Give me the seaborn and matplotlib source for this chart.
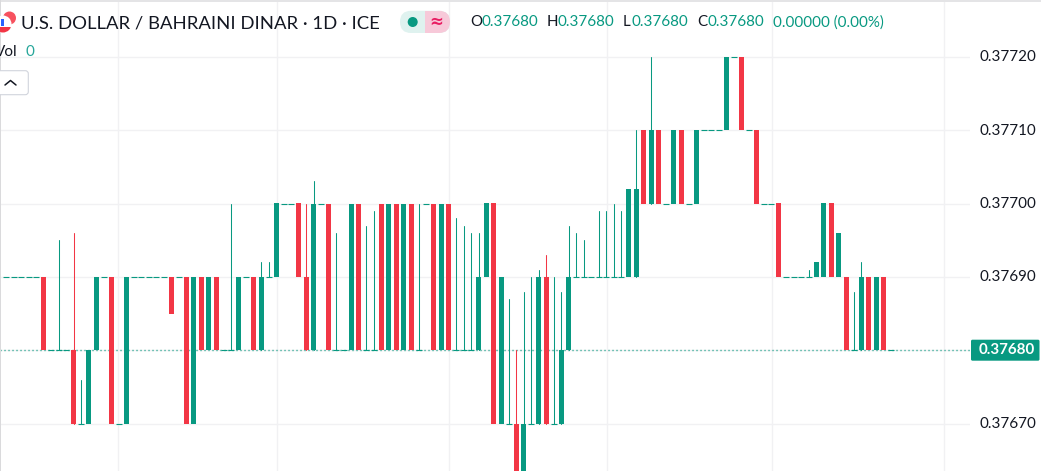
import numpy as np
import pandas as pd
import matplotlib
matplotlib.use("Agg")
import matplotlib.pyplot as plt
from matplotlib.patches import Circle, FancyBboxPatch, Rectangle
from matplotlib.transforms import ScaledTranslation
import seaborn as sns

UP = "#089981"
DOWN = "#F23645"
GRID = "#F1F1F3"
INK = "#131722"

# candles, one list per field
opens = [
    .37690, .37690, .37690, .37690, .37690, .37690, .37680, .37680, .37680, .37680,
    .37670, .37670, .37680, .37690, .37690, .37670, .37670, .37690, .37690, .37690,
    .37690, .37690, .37690, .37690, .37690, .37670, .37690, .37680, .37690, .37680,
    .37680, .37680, .37690, .37690, .37680, .37690, .37690, .37700, .37700, .37700,
    .37690, .37680, .37700, .37700, .37680, .37680, .37680, .37700, .37680, .37680,
    .37700, .37680, .37700, .37680, .37700, .37680, .37700, .37700, .37680, .37700,
    .37680, .37680, .37680, .37680, .37690, .37700, .37670, .37670, .37670, .37660,
    .37670, .37670, .37690, .37670, .37670, .37680, .37690, .37690, .37690, .37690,
    .37690, .37690, .37690, .37690, .37690, .37710, .37700, .37710, .37700, .37700,
    .37710, .37700, .37700, .37710, .37710, .37710, .37710, .37720, .37720, .37710,
    .37710, .37700, .37700, .37700, .37690, .37690, .37690, .37690, .37690, .37690,
    .37700, .37690, .37690, .37680, .37680, .37690, .37680, .37690, .37680,
]
closes = [
    .37690, .37690, .37690, .37690, .37690, .37680, .37680, .37680, .37680, .37670,
    .37670, .37680, .37690, .37690, .37670, .37670, .37690, .37690, .37690, .37690,
    .37690, .37690, .37685, .37690, .37670, .37690, .37680, .37690, .37680, .37680,
    .37680, .37690, .37690, .37680, .37690, .37690, .37700, .37700, .37700, .37690,
    .37680, .37700, .37700, .37680, .37680, .37680, .37700, .37680, .37680, .37680,
    .37680, .37700, .37680, .37700, .37680, .37680, .37700, .37680, .37700, .37680,
    .37680, .37680, .37680, .37690, .37700, .37670, .37690, .37670, .37660, .37670,
    .37670, .37690, .37670, .37670, .37680, .37690, .37690, .37690, .37690, .37690,
    .37690, .37690, .37690, .37702, .37702, .37700, .37710, .37700, .37700, .37710,
    .37700, .37700, .37710, .37710, .37710, .37710, .37720, .37720, .37710, .37710,
    .37700, .37700, .37700, .37690, .37690, .37690, .37690, .37690, .37692, .37700,
    .37690, .37696, .37680, .37680, .37690, .37680, .37690, .37680, .37680,
]
# only the candles that have a wick: bar number, top, bottom
wick_bars = [7, 9, 10, 30, 34, 35, 40, 41, 44, 48, 49, 55, 60, 61, 62, 63, 67, 68, 69, 70,
             71, 72, 73, 74, 75, 76, 77, 79, 80, 81, 82, 84, 86, 107, 113, 114]
wick_highs = [.37695, .37696, .37676, .37700, .37692, .37692, .37700, .37703, .37696, .37697,
              .37699, .37700, .37698, .37697, .37696, .37696, .37687, .37680, .37688, .37690,
              .37691, .37693, .37690, .37688, .37697, .37696, .37695, .37699, .37699, .37700,
              .37699, .37710, .37720, .37691, .37688, .37692]
wick_lows = [.37680, .37670, .37670, .37680, .37680, .37690, .37680, .37680, .37680, .37680,
             .37680, .37680, .37680, .37680, .37680, .37680, .37670, .37670, .37670, .37670,
             .37670, .37670, .37670, .37670, .37680, .37690, .37690, .37690, .37690, .37690,
             .37690, .37690, .37700, .37690, .37680, .37680]
price_ticks = [.37670, .37680, .37690, .37700, .37710, .37720]
time_grid = [14.98, 36.05, 58.98, 80.05, 102.05, 125.07]
last_price = .37680

candles = pd.DataFrame({"bar": np.arange(len(opens)), "open": opens, "close": closes})
candles["bottom"] = candles[["open", "close"]].min(axis=1)
candles["height"] = (candles["close"] - candles["open"]).abs()
up_bodies = candles[candles["close"] > candles["open"]]
down_bodies = candles[candles["close"] < candles["open"]]
dojis = candles[candles["close"] == candles["open"]]

wicks = pd.DataFrame({"bar": wick_bars, "high": wick_highs, "low": wick_lows})
wicks["side"] = [
    "down" if closes[b] < opens[b] else "up" for b in wick_bars
]
wicks_long = wicks.melt(id_vars=["bar", "side"], value_vars=["high", "low"], value_name="price")

sns.set_theme(style="white")
plt.rcParams["font.family"] = ["Lato", "DejaVu Sans"]

fig = plt.figure(figsize=(10.41, 4.71), dpi=100)
# plot area runs up to the price scale at x=970
ax = fig.add_axes([0, 0, 970 / 1041, 1])
overlay = fig.add_axes([0, 0, 1, 1], zorder=5)
overlay.set_xlim(0, 1041)
overlay.set_ylim(471, 0)
overlay.axis("off")

# vertical lines first, the bodies go on top
sns.lineplot(data=wicks_long, x="bar", y="price", hue="side", units="bar", estimator=None,
             palette={"up": UP, "down": DOWN}, linewidth=0.75, legend=False, ax=ax, zorder=2)
sns.barplot(data=up_bodies, x="bar", y="height", bottom=up_bodies["bottom"].values, native_scale=True,
            color=UP, saturation=1, width=0.67, errorbar=None, linewidth=0, ax=ax, zorder=3)
sns.barplot(data=down_bodies, x="bar", y="height", bottom=down_bodies["bottom"].values, native_scale=True,
            color=DOWN, saturation=1, width=0.67, errorbar=None, linewidth=0, ax=ax, zorder=3)
sns.scatterplot(data=dojis, x="bar", y="close", marker="_", s=15, color=UP, linewidth=0.8, legend=False,
                ax=ax, zorder=3)

ax.axhline(last_price, color=UP, linestyle=(0, (0.75, 2.13)), linewidth=1, zorder=1)
for level in price_ticks:
    ax.axhline(level, color=GRID, linewidth=1, zorder=0)
for pos in time_grid:
    ax.axvline(pos, color=GRID, linewidth=1, zorder=0)

ax.set_xlim(-0.813, 128.5)
ax.set_ylim(.37680 - 120.7 / 73.4 * 1e-4, .37680 + 350.3 / 73.4 * 1e-4)
ax.yaxis.tick_right()
# the 0.37680 label is covered by the last price tag
ax.set_yticks(price_ticks, ["" if p == last_price else f"{p:.5f}" for p in price_ticks])
ax.tick_params(axis="y", length=0, pad=7, labelsize=10.9, labelcolor=INK)
lift = ScaledTranslation(0, 1 / 100, fig.dpi_scale_trans)
for label in ax.get_yticklabels():
    label.set_transform(label.get_transform() + lift)
ax.set_xticks([])
ax.set_xlabel("")
ax.set_ylabel("")
for side in ax.spines.values():
    side.set_visible(False)
ax.patch.set_alpha(0)

# last price tag
overlay.add_patch(FancyBboxPatch((971, 339.7), 68.5, 21, boxstyle="round,pad=0,rounding_size=1.5", fc=UP, lw=0))
overlay.text(1007, 350.2, "0.37680", color="white", fontsize=10.9, fontweight="bold", ha="center", va="center")

# header
overlay.add_patch(Rectangle((0, 0), 1041, 1.5, color="#E4E4E6", lw=0))
overlay.add_patch(Rectangle((0, 0), 1, 471, color="#DADADC", lw=0))

# flag, cut by the left edge like the original
overlay.add_patch(Circle((9.5, 18), 6.5, color="#F7525F", lw=0))
flag_disc = Circle((3, 24), 8.5, color="white", lw=0)
overlay.add_patch(flag_disc)
flag_red = Rectangle((0, 27), 14, 6, color=DOWN, lw=0)
overlay.add_patch(flag_red)
flag_red.set_clip_path(flag_disc)
overlay.add_patch(Rectangle((1, 19), 2.5, 7, color="#2962FF", lw=0))

overlay.text(21, 23.5, "U.S. DOLLAR / BAHRAINI DINAR · 1D · ICE", color=INK, fontsize=13.3, va="center")
overlay.text(-5, 52.5, "Vol", color=INK, fontsize=11, va="center")
overlay.text(25, 52.5, "0", color="#26A69A", fontsize=11, va="center")
overlay.add_patch(FancyBboxPatch((-6, 70.7), 34.3, 24, boxstyle="round,pad=0,rounding_size=3", fc="white",
                                 ec="#D1D4DC", lw=0.8))
overlay.plot([5, 10.5, 16], [85, 80.5, 85], color=INK, lw=1.1)

overlay.add_patch(FancyBboxPatch((400, 10.8), 50, 22.2, boxstyle="round,pad=0,rounding_size=11", fc="#DFF2EF", lw=0))
overlay.add_patch(Rectangle((425, 10.8), 14, 22.2, color="#F7C9D9", lw=0))
overlay.add_patch(FancyBboxPatch((428, 10.8), 22, 22.2, boxstyle="round,pad=0,rounding_size=11", fc="#F7C9D9", lw=0))
overlay.add_patch(Circle((412.7, 22), 5, color=UP, lw=0))
overlay.text(436, 21.5, "≈", color="#E91E63", fontsize=12, ha="center", va="center", fontweight="bold",
             family="DejaVu Sans")

# OHLC readout, each piece placed on its own
legend_bits = [(470, "O", INK), (482, "0.37680", UP), (547, "H", INK), (558, "0.37680", UP),
               (623, "L", INK), (632, "0.37680", UP), (697, "C", INK), (708, "0.37680", UP),
               (773, "0.00000 (0.00%)", UP)]
for px, label, colour in legend_bits:
    overlay.text(px, 22.5, label, color=colour, fontsize=10.9, va="center")

fig.savefig("out.png", dpi=100)
